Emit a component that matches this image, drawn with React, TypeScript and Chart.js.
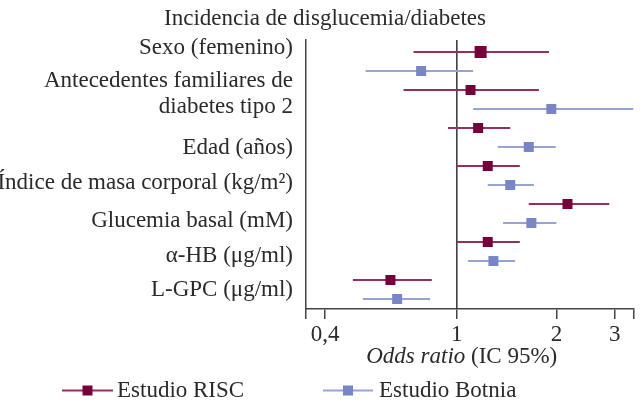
import React, { useEffect, useRef } from 'react';
import { Chart, registerables } from 'chart.js';

Chart.register(...registerables);

// ---------- data ----------
const TITLE = 'Incidencia de disglucemia/diabetes';
const CATEGORIES: (string | string[])[] = [
  'Sexo (femenino)',
  ['Antecedentes familiares de', 'diabetes tipo 2'],
  'Edad (años)',
  'Índice de masa corporal (kg/m²)',
  'Glucemia basal (mM)',
  'α-HB (μg/ml)',
  'L-GPC (μg/ml)',
];
const SERIES_NAMES = ['Estudio RISC', 'Estudio Botnia'];

const RISC_OR = [1.18, 1.10, 1.16, 1.24, 2.16, 1.24, 0.63];
const RISC_LO = [0.74, 0.69, 0.94, 1.0, 1.65, 1.0, 0.485];
const RISC_HI = [1.9, 1.77, 1.45, 1.55, 2.89, 1.55, 0.84];

const BOTNIA_OR = [0.78, 1.93, 1.65, 1.45, 1.68, 1.29, 0.66];
const BOTNIA_LO = [0.53, 1.12, 1.33, 1.24, 1.38, 1.08, 0.52];
const BOTNIA_HI = [1.12, 3.42, 1.99, 1.71, 2.0, 1.5, 0.83];

const X_TICKS = [0.4, 1, 2, 3];
const X_TICK_LABELS = ['0,4', '1', '2', '3'];
const X_MIN = 0.35;
const X_MAX = 3.42;
const REF_VALUE = 1;
const AXIS_TITLE_ITALIC = 'Odds ratio';
const AXIS_TITLE_REST = ' (IC 95%)';

// ---------- layout / style ----------
const W = 642;
const H = 403;
const FONT = '"Liberation Serif", "DejaVu Serif", serif';
const FS = 23;
const TEXT = '#2a2a2a';
const AXIS_COLOR = '#444';
const RISC_POINT = '#76003a';
const RISC_LINE = '#962f5f';
const BOTNIA_POINT = '#7886c5';
const BOTNIA_LINE = '#95a3d8';
const LABEL_POS = [-0.21, 2.21, 5.03, 6.9, 8.9, 10.74, 12.52];
const Y_MIN = -0.63;
const Y_MAX = 13.53;

const rowOf = (cat: number, series: number) => cat * 2 + series;

function ciData(lo: number[], hi: number[], series: number) {
  const out: { x: number; y: number }[] = [];
  lo.forEach((l, i) => {
    out.push({ x: l, y: rowOf(i, series) });
    out.push({ x: hi[i], y: rowOf(i, series) });
    out.push({ x: NaN, y: NaN });
  });
  return out;
}
function pointData(or: number[], series: number) {
  return or.map((v, i) => ({ x: v, y: rowOf(i, series) }));
}

const overlay = {
  id: 'overlay',
  beforeDatasetsDraw(chart: any) {
    const { ctx, chartArea, scales } = chart;
    const px = scales.x.getPixelForValue(REF_VALUE);
    ctx.save();
    ctx.strokeStyle = '#333';
    ctx.lineWidth = 1.5;
    ctx.beginPath();
    ctx.moveTo(px, chartArea.top);
    ctx.lineTo(px, chartArea.bottom);
    ctx.stroke();
    ctx.restore();
  },
  afterDraw(chart: any) {
    const { ctx, chartArea } = chart;
    ctx.save();
    ctx.fillStyle = TEXT;
    ctx.textBaseline = 'alphabetic';
    // title
    ctx.font = `${FS}px ${FONT}`;
    ctx.textAlign = 'center';
    ctx.fillText(TITLE, 325, 25);
    // axis title
    ctx.textAlign = 'left';
    ctx.font = `italic ${FS}px ${FONT}`;
    const w1 = ctx.measureText(AXIS_TITLE_ITALIC).width;
    ctx.font = `${FS}px ${FONT}`;
    const w2 = ctx.measureText(AXIS_TITLE_REST).width;
    const cx = (chartArea.left + chartArea.right) / 2 - 8;
    const sx = cx - (w1 + w2) / 2;
    ctx.font = `italic ${FS}px ${FONT}`;
    ctx.fillText(AXIS_TITLE_ITALIC, sx, 363);
    ctx.font = `${FS}px ${FONT}`;
    ctx.fillText(AXIS_TITLE_REST, sx + w1, 363);
    // legend
    const items = [
      { x0: 62, x1: 113, tx: 117, line: RISC_LINE, pt: RISC_POINT },
      { x0: 323, x1: 373, tx: 379, line: BOTNIA_LINE, pt: BOTNIA_POINT },
    ];
    const ly = 390.5;
    items.forEach((it, i) => {
      ctx.strokeStyle = it.line;
      ctx.lineWidth = 2;
      ctx.beginPath();
      ctx.moveTo(it.x0, ly);
      ctx.lineTo(it.x1, ly);
      ctx.stroke();
      ctx.fillStyle = it.pt;
      const mx = (it.x0 + it.x1) / 2;
      ctx.fillRect(mx - 5, ly - 5, 10, 10);
      ctx.fillStyle = TEXT;
      ctx.font = `${FS}px ${FONT}`;
      ctx.fillText(SERIES_NAMES[i], it.tx, 397);
    });
    ctx.restore();
  },
};

export default function App() {
  const ref = useRef<HTMLCanvasElement>(null);
  useEffect(() => {
    document.body.style.margin = '0';
    const canvas = ref.current!;
    const chart = new Chart(canvas, {
      type: 'scatter',
      data: {
        datasets: [
          {
            type: 'line',
            label: SERIES_NAMES[0] + ' IC',
            data: ciData(RISC_LO, RISC_HI, 0),
            borderColor: RISC_LINE,
            borderWidth: 2,
            pointRadius: 0,
            showLine: true,
            spanGaps: false,
            order: 3,
          } as any,
          {
            type: 'line',
            label: SERIES_NAMES[1] + ' IC',
            data: ciData(BOTNIA_LO, BOTNIA_HI, 1),
            borderColor: BOTNIA_LINE,
            borderWidth: 2,
            pointRadius: 0,
            showLine: true,
            spanGaps: false,
            order: 3,
          } as any,
          {
            label: SERIES_NAMES[0],
            data: pointData(RISC_OR, 0),
            pointStyle: 'rect',
            pointRadius: (c: any) => (c.dataIndex === 0 ? 8.5 : 7.07),
            backgroundColor: RISC_POINT,
            borderWidth: 0,
            order: 1,
          },
          {
            label: SERIES_NAMES[1],
            data: pointData(BOTNIA_OR, 1),
            pointStyle: 'rect',
            pointRadius: 7.07,
            backgroundColor: BOTNIA_POINT,
            borderWidth: 0,
            order: 1,
          },
        ],
      },
      options: {
        animation: false,
        responsive: false,
        events: [],
        layout: { padding: { top: 40, right: 8, bottom: 0, left: 0 } },
        plugins: {
          legend: { display: false },
          title: { display: false },
          tooltip: { enabled: false },
        },
        scales: {
          x: {
            type: 'logarithmic',
            min: X_MIN,
            max: X_MAX,
            afterBuildTicks: (s: any) => {
              s.ticks = [X_MIN, ...X_TICKS, X_MAX].map((v) => ({ value: v }));
            },
            afterFit: (s: any) => {
              s.height = H - 309;
            },
            ticks: {
              autoSkip: false,
              maxRotation: 0,
              padding: 2,
              color: TEXT,
              font: { family: FONT, size: FS },
              callback: (v: any) => {
                const i = X_TICKS.findIndex((t) => Math.abs(t - Number(v)) < 1e-9);
                return i >= 0 ? X_TICK_LABELS[i] : '';
              },
            },
            grid: {
              drawOnChartArea: false,
              drawTicks: true,
              tickLength: 10,
              color: AXIS_COLOR,
              lineWidth: 1.5,
            },
            border: { color: AXIS_COLOR, width: 1.5 },
          },
          y: {
            type: 'linear',
            reverse: true,
            min: Y_MIN,
            max: Y_MAX,
            afterBuildTicks: (s: any) => {
              s.ticks = LABEL_POS.map((v) => ({ value: v }));
            },
            afterFit: (s: any) => {
              s.width = 306;
            },
            ticks: {
              autoSkip: false,
              padding: 13,
              color: TEXT,
              font: { family: FONT, size: FS, lineHeight: 1.09 },
              callback: (_v: any, i: number) => CATEGORIES[i] as any,
            },
            grid: { drawOnChartArea: false, drawTicks: false },
            border: { color: AXIS_COLOR, width: 1.5 },
          },
        },
      } as any,
      plugins: [overlay],
    });
    return () => chart.destroy();
  }, []);
  return (
    <div style={{ position: 'absolute', left: 0, top: 0, width: W, height: H, background: '#fff' }}>
      <canvas ref={ref} width={W} height={H} style={{ width: W, height: H, display: 'block' }} />
    </div>
  );
}
